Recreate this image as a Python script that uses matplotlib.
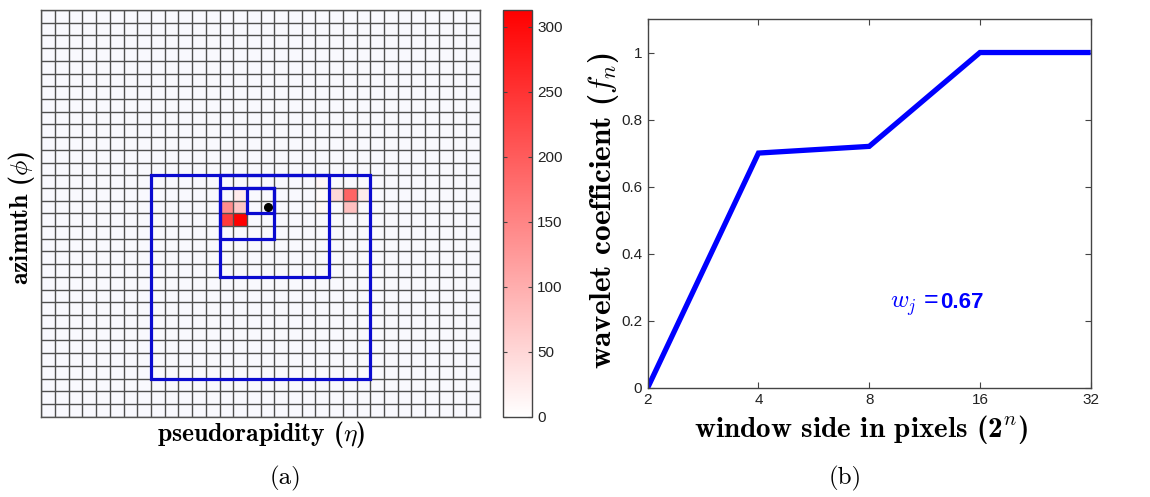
import numpy as np
import matplotlib
matplotlib.use("Agg")
import matplotlib.pyplot as plt
from matplotlib.colors import LinearSegmentedColormap
from matplotlib.patches import Rectangle

plt.rcParams['mathtext.fontset'] = 'cm'
plt.rcParams['axes.unicode_minus'] = False
plt.rcParams['font.family'] = ['Liberation Sans', 'DejaVu Sans']

# ---------------- data ----------------
n_cells = 32
# energy deposits (row from top, column from left, value)
hot_rows = [14, 15, 15, 16, 16, 13, 14, 14, 14, 15, 14, 15]
hot_cols = [14, 13, 14, 13, 14, 20, 21, 22, 23, 22, 20, 20]
hot_values = [25, 140, 72, 240, 313, 12, 50, 190, 25, 78, 6, 8]
cbar_ticks = [0, 50, 100, 150, 200, 250, 300]
cbar_max = 313

# analysis windows (top-left cell, side length)
win_cols = [15, 13, 13, 8]
win_rows = [14, 14, 13, 13]
win_sizes = [2, 4, 8, 16]
seed_col, seed_row = 16, 15

window_side = [2, 4, 8, 16, 32]
wavelet_coef = [0.0, 0.70, 0.72, 1.0, 1.0]
x_tick_labels = ['2', '4', '8', '16', '32']
y_ticks = [0, 0.2, 0.4, 0.6, 0.8, 1.0]
y_tick_labels = ['0', '0.2', '0.4', '0.6', '0.8', '1']
wj_value = '0.67'

# ---------------- figure ----------------
W, H = 1150, 497
fig = plt.figure(figsize=(W / 100, H / 100), dpi=100)

# ---- left panel: calorimeter grid ----
ax1 = fig.add_axes([41.3 / W, 1 - 416.7 / H, 438.7 / W, 406.7 / H])
grid = np.zeros((n_cells, n_cells))
for r, c, v in zip(hot_rows, hot_cols, hot_values):
    grid[r, c] = v
cmap = LinearSegmentedColormap.from_list('wr', [(1, 1, 1), (1, 0, 0)])
masked = np.ma.masked_equal(grid, 0)
ax1.set_facecolor('#f9f9fe')
im = ax1.imshow(masked, cmap=cmap, vmin=0, vmax=cbar_max, extent=[0, n_cells, n_cells, 0],
                aspect='auto', interpolation='nearest', zorder=1)
ax1.set_xlim(0, n_cells)
ax1.set_ylim(n_cells, 0)
ax1.set_xticks(np.arange(n_cells + 1))
ax1.set_yticks(np.arange(n_cells + 1))
ax1.tick_params(length=0, labelbottom=False, labelleft=False)
ax1.grid(True, color='#505050', lw=1.0, zorder=2)
ax1.set_axisbelow(False)
for sp in ax1.spines.values():
    sp.set_color('#555555')
    sp.set_linewidth(1.0)
for c, r, s in zip(win_cols, win_rows, win_sizes):
    ax1.add_patch(Rectangle((c, r), s, s, fill=False, ec='#0a0ad0', lw=2.3, zorder=4))
ax1.plot([seed_col + 0.5], [seed_row + 0.5], 'o', color='black', ms=5.5, zorder=5)

ax1.set_xlabel(r'pseudorapidity ($\eta$)', fontfamily='cmb10', fontsize=18.5, va='center')
ax1.xaxis.set_label_coords(0.5008, -0.0443)
ax1.set_ylabel(r'azimuth ($\phi$)', fontfamily='cmb10', fontsize=18.5, va='center')
ax1.yaxis.set_label_coords(-0.046, 0.4886)

# colorbar
cax = fig.add_axes([502.7 / W, 1 - 416.7 / H, 29 / W, 406.7 / H])
cb = fig.colorbar(im, cax=cax)
cb.set_ticks(cbar_ticks)
cb.ax.tick_params(direction='in', left=True, right=True, length=3, width=0.8,
                  color='#444444', labelsize=11, labelcolor='#222222', pad=4)
cb.outline.set_edgecolor('#444444')
cb.outline.set_linewidth(1.0)

# ---- right panel: wavelet coefficients ----
ax2 = fig.add_axes([647.7 / W, 1 - 387.7 / H, 443 / W, 368.7 / H])
ax2.plot(window_side, wavelet_coef, color='#0000ff', lw=3.8, solid_capstyle='butt', solid_joinstyle='miter')
ax2.set_xscale('log', base=2)
ax2.set_xlim(2, 32)
ax2.set_ylim(0, 1.1)
ax2.set_xticks(window_side)
ax2.set_xticklabels(x_tick_labels)
ax2.minorticks_off()
ax2.set_yticks(y_ticks)
ax2.set_yticklabels(y_tick_labels)
ax2.tick_params(direction='in', top=True, right=True, length=4, width=0.8,
                color='#444444', labelsize=11, labelcolor='#222222', pad=4)
for sp in ax2.spines.values():
    sp.set_color('#444444')
    sp.set_linewidth(1.0)

ax2.set_xlabel(r'window side in pixels (2$^n$)', fontfamily='cmb10', fontsize=21, va='center')
ax2.xaxis.set_label_coords(0.481, -0.1147)
ax2.set_ylabel(r'wavelet coefficient ($f_n$)', fontfamily='cmb10', fontsize=22.5, va='center')
ax2.yaxis.set_label_coords(-0.1, 0.482)

ax2.text(12.5, 0.238, wj_value, color='#0000ff', fontsize=16, fontweight='bold',
         ha='left', va='baseline')
ax2.annotate(r'$w_j$ =', xy=(12.5, 0.238), xytext=(-1, 0), textcoords='offset points',
             color='#0000ff', fontsize=18, ha='right', va='baseline')

fig.text(285 / W, 1 - 478.5 / H, '(a)', fontfamily='cmr10', fontsize=18, ha='center', va='center')
fig.text(845 / W, 1 - 478.5 / H, '(b)', fontfamily='cmr10', fontsize=18, ha='center', va='center')

fig.savefig('out.png', dpi=100, facecolor='white')
